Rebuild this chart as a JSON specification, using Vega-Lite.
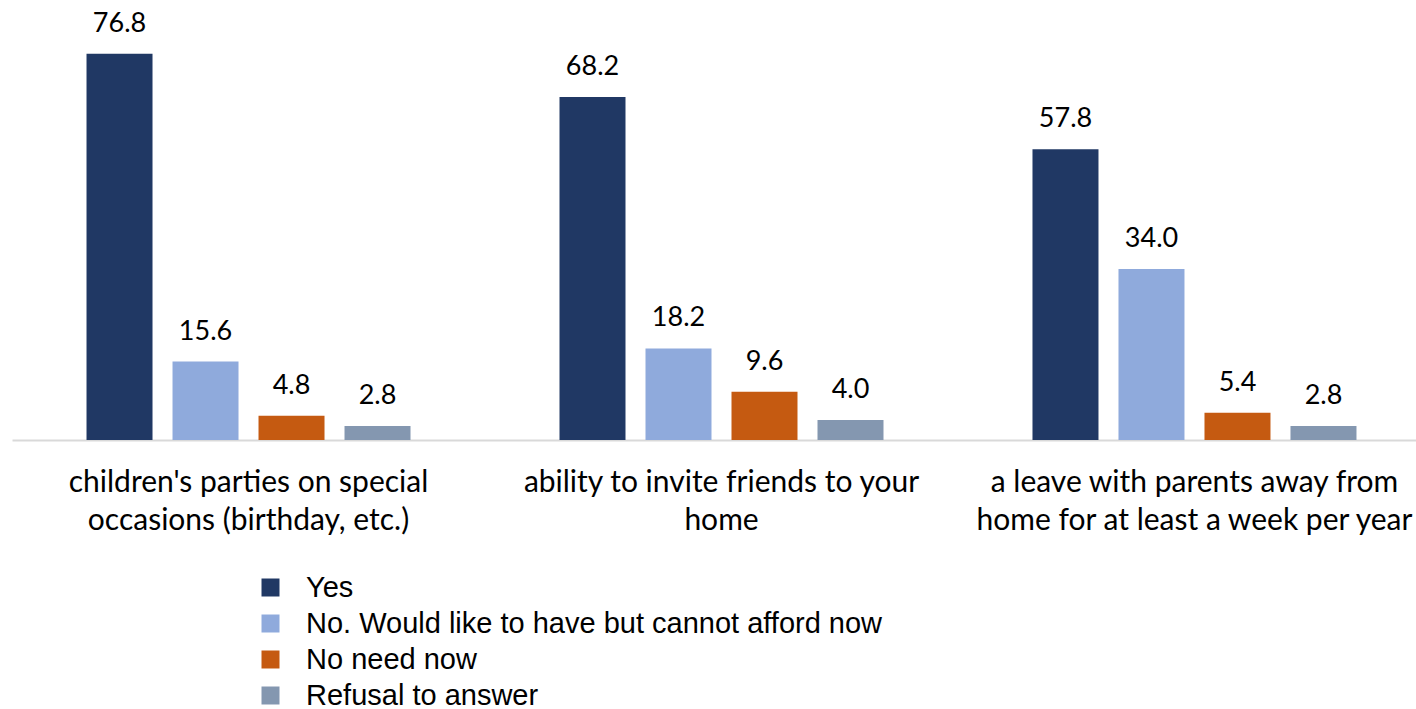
{
  "$schema": "https://vega.github.io/schema/vega-lite/v6.json",
  "width": 1404,
  "height": 440,
  "autosize": {"type": "none"},
  "padding": {"left": 12, "top": 0, "right": 0, "bottom": 269},
  "background": "white",
  "config": {"view": {"stroke": null}},
  "data": {
    "values": [
      {"item": "children's parties on special|occasions (birthday, etc.)", "answer": "Yes", "value": 76.8},
      {"item": "children's parties on special|occasions (birthday, etc.)", "answer": "No. Would like to have but cannot afford now", "value": 15.6},
      {"item": "children's parties on special|occasions (birthday, etc.)", "answer": "No need now", "value": 4.8},
      {"item": "children's parties on special|occasions (birthday, etc.)", "answer": "Refusal to answer", "value": 2.8},
      {"item": "ability to invite friends to your|home", "answer": "Yes", "value": 68.2},
      {"item": "ability to invite friends to your|home", "answer": "No. Would like to have but cannot afford now", "value": 18.2},
      {"item": "ability to invite friends to your|home", "answer": "No need now", "value": 9.6},
      {"item": "ability to invite friends to your|home", "answer": "Refusal to answer", "value": 4.0},
      {"item": "a leave with parents away from|home for at least a week per year", "answer": "Yes", "value": 57.8},
      {"item": "a leave with parents away from|home for at least a week per year", "answer": "No. Would like to have but cannot afford now", "value": 34.0},
      {"item": "a leave with parents away from|home for at least a week per year", "answer": "No need now", "value": 5.4},
      {"item": "a leave with parents away from|home for at least a week per year", "answer": "Refusal to answer", "value": 2.8}
    ]
  },
  "encoding": {
    "x": {
      "field": "item", "type": "nominal", "sort": null,
      "scale": {"range": [0, 1419], "paddingInner": 0.2727, "paddingOuter": 0.1364},
      "axis": {
        "title": null, "ticks": false, "domainColor": "#d9d9d9", "domainWidth": 2,
        "labelAngle": 0, "labelFont": "Lato", "labelFontSize": 30, "labelColor": "#000000",
        "labelPadding": 27, "labelLineHeight": 38, "labelExpr": "split(datum.label, '|')",
        "labelLimit": 0
      }
    },
    "xOffset": {
      "field": "answer", "type": "nominal", "sort": null,
      "scale": {"paddingInner": 0.2326, "paddingOuter": 0.1163}
    },
    "y": {
      "field": "value", "type": "quantitative",
      "scale": {"domain": [0, 87.5], "nice": false},
      "axis": null
    }
  },
  "layer": [
    {
      "mark": {"type": "bar"},
      "encoding": {
        "color": {
          "field": "answer", "type": "nominal", "sort": null,
          "scale": {
            "domain": ["Yes", "No. Would like to have but cannot afford now", "No need now", "Refusal to answer"],
            "range": ["#203864", "#8faadc", "#c55a11", "#8497b0"]
          },
          "legend": {
            "title": null, "orient": "none", "legendX": 244, "legendY": 573,
            "symbolType": "square", "symbolSize": 324, "symbolStrokeWidth": 0,
            "labelFont": "Liberation Sans", "labelFontSize": 29, "labelColor": "#000000",
            "labelOffset": 21, "rowPadding": 6, "labelLimit": 0
          }
        }
      }
    },
    {
      "mark": {"type": "text", "font": "Lato", "fontSize": 27, "color": "#000000", "baseline": "alphabetic", "dy": -22},
      "encoding": {
        "text": {"field": "value", "type": "quantitative", "format": ".1f"}
      }
    }
  ]
}
